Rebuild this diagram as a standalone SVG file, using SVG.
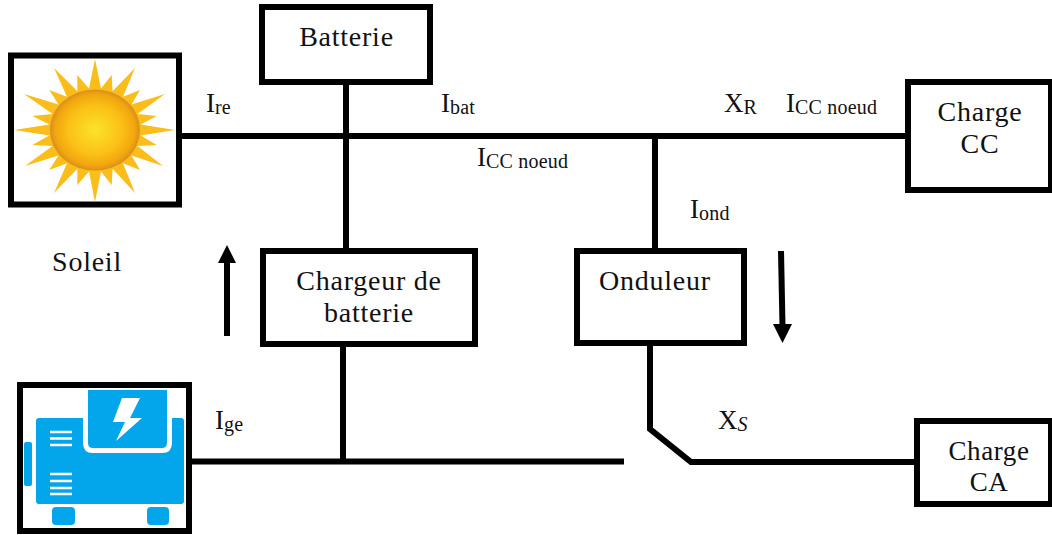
<svg xmlns="http://www.w3.org/2000/svg" width="1052" height="535" viewBox="0 0 1052 535">
<style>
.box{fill:#fff;stroke:#000;stroke-width:6}
.w{fill:none;stroke:#000;stroke-width:6}
text{font-family:"Liberation Serif","DejaVu Serif",serif;font-size:27px;fill:#111}
.lab{font-size:28px;text-anchor:middle;letter-spacing:.75px}
.lab2{font-size:27px;text-anchor:middle;letter-spacing:.6px}
.sub{font-size:20px;letter-spacing:.2px}
.g{fill:#03a6ea}
.v{stroke:#fff;stroke-width:2.4}
</style>
<defs>
<radialGradient id="sun" cx="50%" cy="50%" r="50%">
<stop offset="0" stop-color="#fbe32a"/><stop offset=".6" stop-color="#fbc016"/><stop offset=".88" stop-color="#f2a60f"/><stop offset="1" stop-color="#d98f1c"/>
</radialGradient>
</defs>
<g id="connectors">
<path class="w" d="M179 136H907"/>
<path class="w" d="M346 80V250"/>
<path class="w" d="M655 136V250"/>
<path class="w" d="M343 345V461"/>
<path class="w" d="M192 461.500H624"/>
<path class="w" d="M650 345V429L691 462H916"/>
<path d="M227 336V262" stroke="#000" stroke-width="6" fill="none"/>
<path d="M218 263L227 245L236 263Z" fill="#000"/>
<path d="M781 251L782.500 326" stroke="#000" stroke-width="6" fill="none"/>
<path d="M773 324L792 324L782.500 343Z" fill="#000"/>
</g>
<g id="soleil">
<rect class="box" x="11" y="55.500" width="168" height="149"/>
<polygon fill="#fbbd1a" points="95,59 101,88.400 111.700,75 112.600,91.200 135,68 123,96.700 140,90 131.500,104.400 165,94 137.500,114 156.700,116 140.600,124.500 175,130 140.600,135.500 156.700,145 137.500,146 163,166 131.500,155.600 140,170 123,163.300 135,193 112.600,168.800 111.700,185 101,171.600 95,202 89,171.600 77.300,185 77.400,168.800 54,193 67,163.300 49.300,170 58.500,155.600 25,166 52.500,146 32.300,145 49.400,135.500 14,130 49.400,124.500 32.300,116 52.500,114 24,94 58.500,104.400 49.300,90 67,96.700 54,68 77.400,91.200 77.300,75 89,88.400"/>
<ellipse cx="95" cy="130" rx="45" ry="40.500" fill="url(#sun)"/>
<text x="87" y="271" class="lab">Soleil</text>
</g>
<g id="batterie">
<rect class="box" x="262" y="7" width="168" height="75"/>
<text x="346.500" y="46" class="lab">Batterie</text>
</g>
<g id="charge-cc">
<rect class="box" x="908" y="82" width="143" height="108"/>
<text x="980" y="121" class="lab">Charge</text>
<text x="980" y="153" class="lab">CC</text>
</g>
<g id="chargeur">
<rect class="box" x="263" y="251" width="212" height="93"/>
<text x="369" y="290" class="lab">Chargeur de</text>
<text x="369" y="322" class="lab">batterie</text>
</g>
<g id="onduleur">
<rect class="box" x="577" y="251" width="167" height="92"/>
<text x="655" y="290" class="lab">Onduleur</text>
</g>
<g id="charge-ca">
<rect class="box" x="917" y="421" width="134" height="83"/>
<text x="989" y="460" class="lab2">Charge</text>
<text x="989" y="491" class="lab2">CA</text>
</g>
<g id="generateur">
<rect class="box" x="20" y="385" width="169" height="146"/>
<rect class="g" x="24" y="442" width="8" height="44" rx="2"/>
<path class="g" d="M39 418H83V443Q83 453 93 453H162Q172 453 172 443V418H181Q184 418 184 421V501Q184 504 181 504H39Q36 504 36 501V421Q36 418 39 418Z"/>
<path class="g" d="M88 390H167V443Q167 448 162 448H93Q88 448 88 443Z"/>
<rect class="g" x="52" y="507" width="23" height="18" rx="4"/>
<rect class="g" x="147" y="507" width="22" height="18" rx="4"/>
<path class="v" d="M50 432H72M50 438.500H72M50 445H72M50 474H72M50 481H72M50 488H72M50 494H72"/>
<polygon fill="#fff" points="122,398 140,398 130,418 142,418 116,441 125,422 113,422"/>
</g>
<g id="labels">
<text x="206" y="112">I<tspan class="sub" dy="2">re</tspan></text>
<text x="441" y="112">I<tspan class="sub" dy="2">bat</tspan></text>
<text x="477" y="166">I<tspan class="sub" dy="2">CC noeud</tspan></text>
<text x="724" y="112">X<tspan class="sub" dy="2">R</tspan></text>
<text x="786" y="112">I<tspan class="sub" dy="2">CC noeud</tspan></text>
<text x="690" y="218">I<tspan class="sub" dy="2">ond</tspan></text>
<text x="215" y="429">I<tspan class="sub" dy="2">ge</tspan></text>
<text x="718" y="429">X<tspan class="sub" dy="2" font-style="italic">S</tspan></text>
</g>
</svg>
